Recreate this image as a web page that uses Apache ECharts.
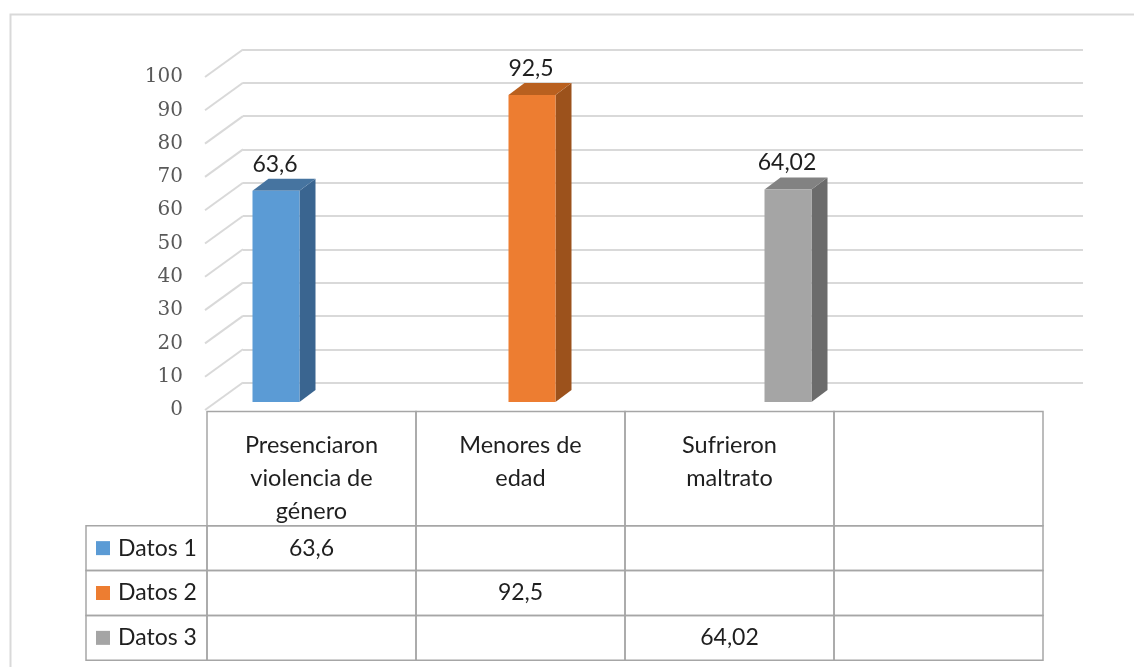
<!DOCTYPE html>
<html>
<head>
<meta charset="utf-8">
<script src="https://cdn.jsdelivr.net/npm/echarts@6/dist/echarts.min.js"></script>
</head>
<body style="margin:0;background:#ffffff;">
<div id="main" style="width:1134px;height:667px;"></div>
<script type="text/javascript">
var chart = echarts.init(document.getElementById('main'));

// data
var categories = ['Presenciaron\nviolencia de\ngénero', 'Menores de\nedad', 'Sufrieron\nmaltrato', ''];
var seriesNames = ['Datos 1', 'Datos 2', 'Datos 3'];
var datos1 = [63.6, null, null, null];
var datos2 = [null, 92.5, null, null];
var datos3 = [null, null, 64.02, null];
var yTicks = [0, 10, 20, 30, 40, 50, 60, 70, 80, 90, 100];

var seriesValues = [datos1, datos2, datos3];
var colors = [
    { front: '#5B9BD5', top: '#4674A0', side: '#3A6590' },
    { front: '#ED7D31', top: '#B9601F', side: '#9C521C' },
    { front: '#A5A5A5', top: '#828282', side: '#6B6B6B' }
];
var textFont = 'Lato';
var textColor = '#1f1f1f';
var lineColor = '#a6a6a6';

function fmt(v) {
    return String(v).replace('.', ',');
}

// 3d bar: front face + side + top
function barItem(c) {
    return function (params, api) {
        var top = api.coord([api.value(0), api.value(1)]);
        var base = api.coord([api.value(0), 0]);
        var hw = 23.5, dx = 16, dy = 12;
        var l = top[0] - hw, r = top[0] + hw;
        return {
            type: 'group',
            children: [
                { type: 'polygon', shape: { points: [[r, top[1]], [r + dx, top[1] - dy], [r + dx, base[1] - dy], [r, base[1]]] }, style: { fill: c.side } },
                { type: 'polygon', shape: { points: [[l, top[1]], [l + dx, top[1] - dy], [r + dx, top[1] - dy], [r, top[1]]] }, style: { fill: c.top } },
                { type: 'rect', shape: { x: l, y: top[1], width: hw * 2, height: base[1] - top[1] }, style: { fill: c.front } },
                { type: 'text', x: top[0] - 1, y: top[1] - dy - 3, style: { text: fmt(api.value(1)), align: 'center', verticalAlign: 'bottom', fontSize: 23, fontFamily: textFont, fill: textColor } }
            ]
        };
    };
}

var series = [];

// diagonal lines on the left wall
series.push({
    type: 'custom',
    xAxisIndex: 1, yAxisIndex: 1,
    data: yTicks.map(function (v) { return [0, v]; }),
    renderItem: function (params, api) {
        var p = api.coord([0, api.value(1)]);
        return { type: 'line', shape: { x1: p[0], y1: p[1], x2: p[0] + 38, y2: p[1] - 27.5 }, style: { stroke: '#d9d9d9', lineWidth: 2 } };
    }
});

seriesValues.forEach(function (vals, s) {
    var d = [];
    vals.forEach(function (v, i) { if (v != null) d.push([i, v]); });
    series.push({
        type: 'custom',
        name: seriesNames[s],
        xAxisIndex: 2, yAxisIndex: 2,
        data: d,
        z: 5,
        renderItem: barItem(colors[s])
    });
});

// table header
series.push({
    type: 'custom',
    xAxisIndex: 3, yAxisIndex: 3,
    data: categories.map(function (c, i) { return [i, 0]; }),
    renderItem: function (params, api) {
        var i = api.value(0);
        var w = api.size([1, 0])[0];
        var p0 = api.coord([i, 0]);
        var p1 = api.coord([i, 1]);
        return {
            type: 'group',
            children: [
                { type: 'rect', shape: { x: p0[0] - w / 2, y: p1[1], width: w, height: p0[1] - p1[1] }, style: { fill: 'none', stroke: lineColor, lineWidth: 1.5 } },
                { type: 'text', x: p0[0], y: p1[1] + 17, style: { text: categories[i], align: 'center', verticalAlign: 'top', lineHeight: 33, fontSize: 23.5, fontFamily: textFont, fill: textColor } }
            ]
        };
    }
});

// table body
var cells = [];
seriesValues.forEach(function (vals, s) {
    categories.forEach(function (c, i) { cells.push([i, s, vals[i]]); });
});
series.push({
    type: 'custom',
    xAxisIndex: 4, yAxisIndex: 4,
    data: cells.map(function (d) { return [d[0], d[1]]; }),
    renderItem: function (params, api) {
        var cell = cells[params.dataIndex];
        var p = api.coord([cell[0], cell[1]]);
        var sz = api.size([1, 1]);
        var x = p[0] - sz[0] / 2, y = p[1] - sz[1] / 2;
        var ch = [
            { type: 'rect', shape: { x: x, y: y, width: sz[0], height: sz[1] }, style: { fill: 'none', stroke: lineColor, lineWidth: 1.5 } }
        ];
        if (cell[0] === 0) {
            ch.push({ type: 'rect', shape: { x: x - 121, y: y, width: 121, height: sz[1] }, style: { fill: 'none', stroke: lineColor, lineWidth: 1.5 } });
        }
        if (cell[2] != null) {
            ch.push({ type: 'text', x: p[0], y: p[1], style: { text: fmt(cell[2]), align: 'center', verticalAlign: 'middle', fontSize: 23, fontFamily: textFont, fill: textColor } });
        }
        return { type: 'group', children: ch };
    }
});

var rich = { t: { fontSize: 23, fontFamily: textFont, color: textColor, padding: [0, 0, 0, 8] } };
colors.forEach(function (c, i) {
    rich['s' + i] = { width: 14, height: 14, backgroundColor: c.front };
});

var hidden = { show: false };
var option = {
    animation: false,
    backgroundColor: '#ffffff',
    graphic: [{
        type: 'rect', left: 8, top: 12,
        shape: { width: 1150, height: 680 },
        style: { fill: 'none', stroke: '#d9d9d9', lineWidth: 2 }
    }],
    grid: [
        { left: 243, top: 49.3, width: 840, height: 333.4 },   // back wall
        { left: 205, top: 77, width: 100, height: 333 },       // front value labels
        { left: 148, top: 70, width: 768, height: 332 },       // bars (three columns with bars)
        { left: 207, top: 411.5, width: 836, height: 114.2 },  // table header
        { left: 207, top: 525.7, width: 836, height: 134.6 }   // table body
    ],
    xAxis: [
        { gridIndex: 0, type: 'category', data: categories, show: false },
        { gridIndex: 1, type: 'value', min: 0, max: 1, show: false },
        { gridIndex: 2, type: 'category', data: categories.slice(0, 3), show: false },
        { gridIndex: 3, type: 'category', data: categories, show: false },
        { gridIndex: 4, type: 'category', data: categories, show: false }
    ],
    yAxis: [
        {
            gridIndex: 0, type: 'value', min: 0, max: 100, interval: 10,
            axisLabel: hidden, axisLine: hidden, axisTick: hidden,
            splitLine: { show: true, lineStyle: { color: '#d9d9d9', width: 2 } }
        },
        {
            gridIndex: 1, type: 'value', min: 0, max: 100, interval: 10,
            axisLine: hidden, axisTick: hidden, splitLine: hidden,
            axisLabel: { color: '#595959', fontFamily: 'DejaVu Serif', fontSize: 20, margin: 22 }
        },
        { gridIndex: 2, type: 'value', min: 0, max: 100, show: false },
        { gridIndex: 3, type: 'value', min: 0, max: 1, show: false },
        {
            gridIndex: 4, type: 'category', data: seriesNames, inverse: true,
            axisLine: hidden, axisTick: hidden, splitLine: hidden,
            axisLabel: {
                align: 'left', margin: 111,
                formatter: function (v, i) { return '{s' + i + '|}{t|' + v + '}'; },
                rich: rich
            }
        }
    ],
    series: series
};

chart.setOption(option);
</script>
</body>
</html>
